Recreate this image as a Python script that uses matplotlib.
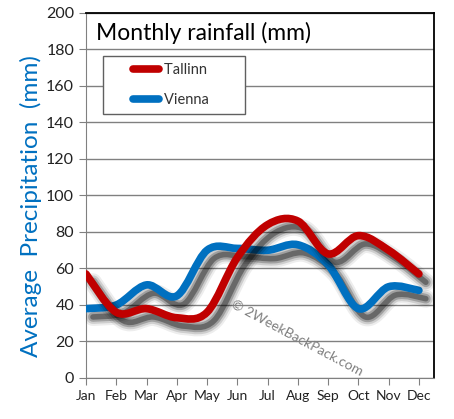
import matplotlib
matplotlib.use('Agg')
import matplotlib.pyplot as plt
import matplotlib.patheffects as pe
from matplotlib.path import Path
from matplotlib.patches import PathPatch
from matplotlib.lines import Line2D
from matplotlib.legend_handler import HandlerLine2D
import numpy as np

months = ['Jan', 'Feb', 'Mar', 'Apr', 'May', 'Jun', 'Jul', 'Aug', 'Sep', 'Oct', 'Nov', 'Dec']
tallinn = [57, 36, 38, 33, 36, 66, 84, 86, 68, 78, 70, 57]
vienna = [38, 40, 51, 45, 70, 71, 70, 73, 62, 38, 50, 48]

plt.rcParams['font.family'] = ['Lato', 'DejaVu Sans']

fig = plt.figure(figsize=(4.54, 4.19), dpi=100)
ax = fig.add_axes([0.1894, 0.0979, 0.7666, 0.8711])


def smooth_path(vals):
    # excel-like smoothed line as bezier segments
    pts = np.column_stack([np.arange(len(vals)), vals]).astype(float)
    ext = np.vstack([pts[0], pts, pts[-1]])
    verts = [pts[0]]
    codes = [Path.MOVETO]
    for i in range(len(pts) - 1):
        p0, p1, p2, p3 = ext[i], ext[i + 1], ext[i + 2], ext[i + 3]
        verts += [p1 + (p2 - p0) / 6, p2 - (p3 - p1) / 6, p2]
        codes += [Path.CURVE4] * 3
    return Path(verts, codes)


# fake blurred drop shadow
shadow = [pe.SimpleLineShadow(offset=(5, -6), shadow_color='black', alpha=a, linewidth=w)
          for w, a in [(13, 0.07), (10, 0.13), (7, 0.22), (4, 0.35)]] + [pe.Normal()]

for vals, col in [(vienna, '#0070c0'), (tallinn, '#c00000')]:
    patch = PathPatch(smooth_path(vals), fill=False, edgecolor=col, lw=5.5,
                      capstyle='round', joinstyle='round', zorder=3)
    patch.set_path_effects(shadow)
    ax.add_patch(patch)

ax.set_xlim(0, 11.5)
ax.set_ylim(0, 200)
ax.set_xticks(range(12))
ax.set_xticklabels(months, fontsize=10)
ax.set_yticks(range(0, 201, 20))
ax.tick_params(axis='y', labelsize=11.5, colors='#808080', labelcolor='#222222', length=5)
ax.tick_params(axis='x', colors='#808080', labelcolor='#222222', length=5)
ax.grid(axis='y', color='#808080', lw=1)
ax.set_axisbelow(True)
for s in ['left', 'bottom']:
    ax.spines[s].set_color('#808080')
for s in ['top', 'right']:
    ax.spines[s].set_color('black')
    ax.spines[s].set_linewidth(1.3)

ax.text(0.03, 0.945, 'Monthly rainfall (mm)', transform=ax.transAxes, fontsize=16.5,
        va='center', ha='left', color='black',
        bbox=dict(facecolor='white', edgecolor='none', pad=1))
ax.set_ylabel('Average  Precipitation  (mm)', color='#0070c0', fontsize=17.5)
ax.yaxis.set_label_coords(-0.125, 0.47)

handles = [Line2D([], [], color='#c00000', lw=5.5, solid_capstyle='round'),
           Line2D([], [], color='#0070c0', lw=5.5, solid_capstyle='round')]
hmap = {h: HandlerLine2D(xpad=1.6) for h in handles}
leg = ax.legend(handles, ['Tallinn        ', 'Vienna        '], loc='upper left',
                bbox_to_anchor=(0.049, 0.882), borderaxespad=0, fontsize=10.5,
                fancybox=False, framealpha=1, edgecolor='#606060',
                handlelength=3.4, borderpad=0.45, labelspacing=1.14,
                handletextpad=0.3, handler_map=hmap)
leg.get_frame().set_linewidth(1)
for t in leg.get_texts():
    t.set_color('#333333')

ax.text(0.605, 0.11, '\u00a9 2WeekBackPack.com', transform=ax.transAxes, fontsize=10,
        color='#808080', rotation=-28, ha='center', va='center', zorder=4)

fig.savefig('out.png', dpi=100)
